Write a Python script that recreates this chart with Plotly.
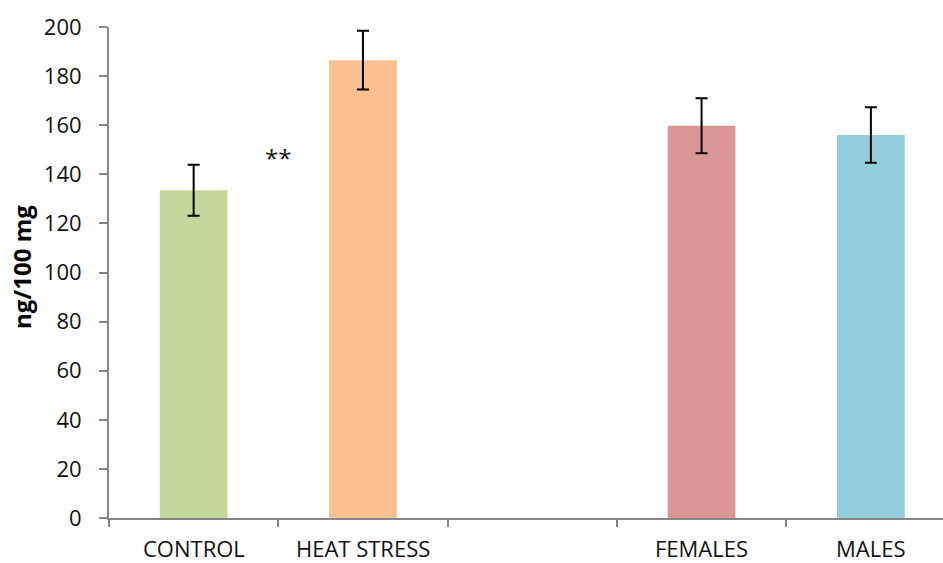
import plotly.graph_objects as go

# Category slots (the empty slot separates the two groups)
categories = ["CONTROL", "HEAT STRESS", "", "FEMALES", "MALES"]
slot_pos = [0, 1, 3, 4]
bar_labels = ["CONTROL", "HEAT STRESS", "FEMALES", "MALES"]
values = [133.5, 186.5, 159.8, 156.0]
errors = [10.4, 12.0, 11.2, 11.3]
colors = ["#C3D69B", "#FAC090", "#D99694", "#93CDDD"]
y_ticks = [0, 20, 40, 60, 80, 100, 120, 140, 160, 180, 200]
sig_marker = "**"

FONT = "Open Sans"
AXIS_GRAY = "#868686"
TEXT = "#111111"

# plot area in pixels: left 109, width 834, top 27, height 491
PLOT_L, PLOT_W, PLOT_B, PLOT_H = 109, 834, 518, 491

fig = go.Figure()
fig.add_trace(go.Bar(
    x=slot_pos,
    y=values,
    width=0.4,
    marker=dict(color=colors, line=dict(width=0)),
    error_y=dict(type="data", array=errors, visible=True,
                 color="black", thickness=2, width=6),
    showlegend=False,
))

# Category labels under the axis
for xpos, lab in zip(slot_pos, bar_labels):
    fig.add_annotation(x=xpos, y=-(548 - PLOT_B) / PLOT_H, xref="x", yref="paper",
                       text=lab, showarrow=False, yanchor="middle",
                       font=dict(family=FONT, size=22, color=TEXT))

# Significance marker between control and heat stress
fig.add_annotation(x=0.5, y=147, xref="x", yref="y", text=sig_marker,
                   showarrow=False, font=dict(family=FONT, size=24, color=TEXT))

# Y-axis title
fig.add_annotation(x=(21 - PLOT_L) / PLOT_W, y=(PLOT_B - 267) / PLOT_H,
                   xref="paper", yref="paper",
                   text="<b>ng/100 mg</b>", textangle=-90, showarrow=False,
                   xanchor="center", yanchor="middle",
                   font=dict(family=FONT, size=24, color="#000000"))

fig.update_layout(
    width=943, height=563,
    margin=dict(l=PLOT_L, r=0, t=27, b=45),
    plot_bgcolor="white", paper_bgcolor="white",
    font=dict(family=FONT, size=22, color=TEXT),
    xaxis=dict(
        range=[-0.5, 4.426],
        tickmode="array",
        tickvals=[-0.5, 0.5, 1.5, 2.5, 3.5],
        showticklabels=False,
        ticks="outside", ticklen=7, tickwidth=2, tickcolor=AXIS_GRAY,
        showline=True, linecolor=AXIS_GRAY, linewidth=2,
        showgrid=False, zeroline=False,
    ),
    yaxis=dict(
        range=[0, 200],
        tickmode="array",
        tickvals=y_ticks,
        ticks="outside", ticklen=8, tickwidth=2, tickcolor=AXIS_GRAY,
        ticklabelstandoff=13,
        showline=True, linecolor=AXIS_GRAY, linewidth=2,
        showgrid=False, zeroline=False,
        tickfont=dict(family=FONT, size=22, color=TEXT),
    ),
)

fig.write_html("out.html")
